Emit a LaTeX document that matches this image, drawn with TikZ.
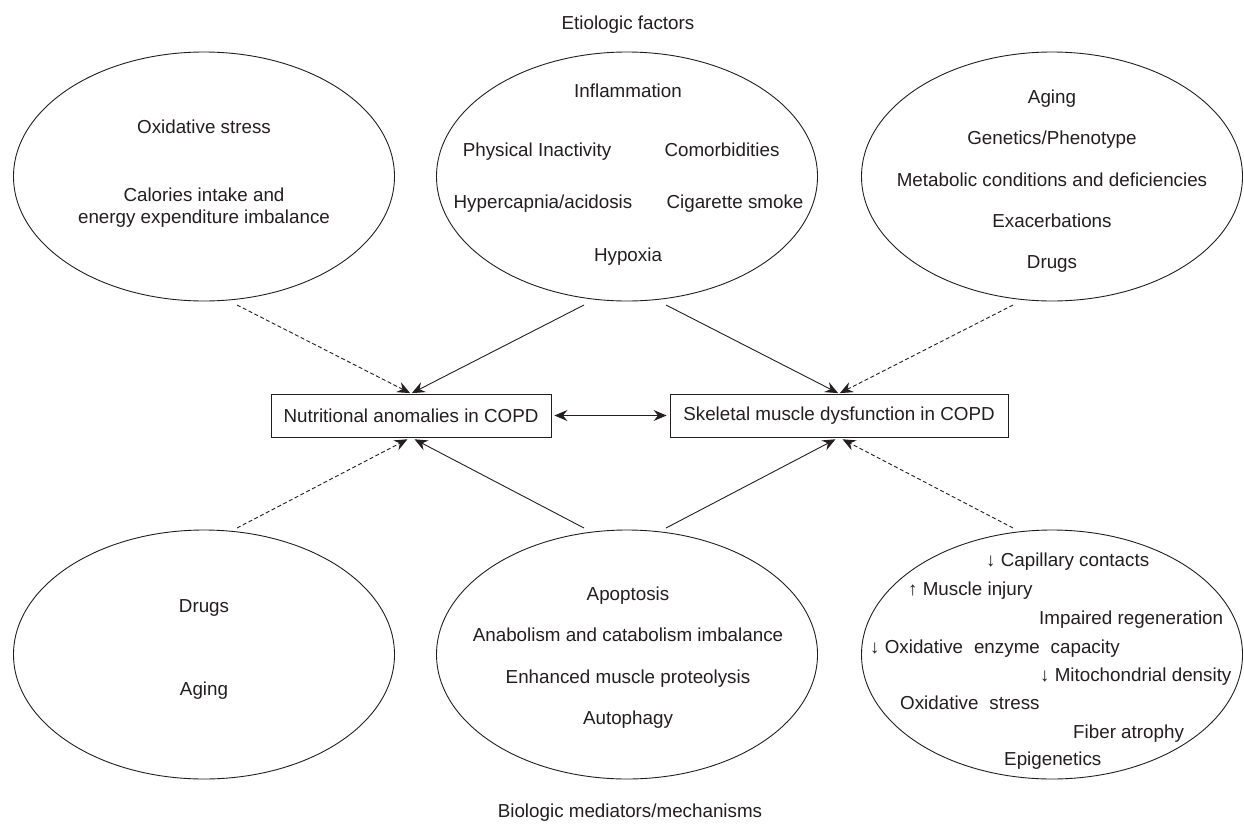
\documentclass[tikz,border=0pt]{standalone}
\usepackage{fontspec}
\setmainfont{Liberation Sans}
\usetikzlibrary{shapes.geometric,arrows.meta}
\definecolor{ink}{HTML}{231F20}
\newcommand{\fs}{\fontsize{18.8pt}{22pt}\selectfont}
\tikzset{
  lbl/.style={anchor=base, inner sep=0pt, text=ink, font=\fs},
  lblw/.style={anchor=base west, inner sep=0pt, text=ink, font=\fs},
  ell/.style={draw=ink, line width=0.9pt, ellipse, minimum width=381pt, minimum height=249pt, inner sep=0pt},
  box/.style={draw=ink, line width=0.9pt, minimum height=43pt, inner sep=0pt, text=ink, font=\fs},
  tip/.tip={Stealth[length=13pt,width=11pt,inset=4.5pt]},
  arr/.style={draw=ink, line width=0.9pt, -tip},
  darr/.style={arr, dash pattern=on 4pt off 2.5pt},
  biarr/.style={draw=ink, line width=0.9pt, tip-tip, shorten <=3pt, shorten >=3pt}
}
\begin{document}
\begin{tikzpicture}[x=1pt,y=-1pt]
\useasboundingbox (0,0) rectangle (1244,825);
\fill[white] (0,0) rectangle (1244,825);

% titles
\node[lbl] (etio) at (628,29) {Etiologic factors};
\node[lbl] (bio) at (630,817) {Biologic mediators/mechanisms};

% ellipses
\node[ell] (tl) at (204,176.5) {};
\node[ell] (tm) at (627,176.5) {};
\node[ell] (tr) at (1052,176.5) {};
\node[ell] (bl) at (204,654.5) {};
\node[ell] (bm) at (627,654.5) {};
\node[ell] (br) at (1052,654.5) {};

% boxes
\node[box, minimum width=280pt] (nut) at (411,415.5) {Nutritional anomalies in COPD};
\node[box, minimum width=338pt] (skel) at (839,415.5) {Skeletal muscle dysfunction in COPD};

% top-left text
\node[lbl] (tl1) at (204,133) {Oxidative stress};
\node[lbl] (tl2) at (204,201) {Calories intake and};
\node[lbl] (tl3) at (204,223) {energy expenditure imbalance};

% top-middle text
\node[lbl] (tm1) at (628,97) {Inflammation};
\node[lbl] (tm2) at (537,156) {Physical Inactivity};
\node[lbl] (tm3) at (722,156) {Comorbidities};
\node[lbl] (tm4) at (543,208) {Hypercapnia/acidosis};
\node[lbl] (tm5) at (735,208) {Cigarette smoke};
\node[lbl] (tm6) at (628,261) {Hypoxia};

% top-right text
\node[lbl] (tr1) at (1052,103) {Aging};
\node[lbl] (tr2) at (1052,144) {Genetics/Phenotype};
\node[lbl] (tr3) at (1052,186) {Metabolic conditions and deficiencies};
\node[lbl] (tr4) at (1052,227) {Exacerbations};
\node[lbl] (tr5) at (1052,268) {Drugs};

% bottom-left text
\node[lbl] (bl1) at (204,612) {Drugs};
\node[lbl] (bl2) at (204,695) {Aging};

% bottom-middle text
\node[lbl] (bm1) at (628,600) {Apoptosis};
\node[lbl] (bm2) at (628,641) {Anabolism and catabolism imbalance};
\node[lbl] (bm3) at (628,683) {Enhanced muscle proteolysis};
\node[lbl] (bm4) at (628,724) {Autophagy};

% bottom-right text
\node[lblw] (br1) at (986,566) {↓ Capillary contacts};
\node[lblw] (br2) at (908,595) {↑ Muscle injury};
\node[lblw] (br3) at (1039,624) {Impaired regeneration};
\node[lblw] (br4) at (870,653) {↓ Oxidative\hspace{0.3em} enzyme\hspace{0.3em} capacity};
\node[lblw] (br5) at (1040,681) {↓ Mitochondrial density};
\node[lblw] (br6) at (900,709) {Oxidative\hspace{0.3em} stress};
\node[lblw] (br7) at (1073,738) {Fiber atrophy};
\node[lblw] (br8) at (1004,765) {Epigenetics};

% connector start points
\coordinate (s1) at (237,305);
\coordinate (s2) at (584,305);
\coordinate (s3) at (666,305);
\coordinate (s4) at (1013,305);
\coordinate (b1) at (237,528);
\coordinate (b2) at (584,528);
\coordinate (b3) at (666,528);
\coordinate (b4) at (1013,528);

% connectors
\draw[darr, shorten >=1pt] (s1) -- (nut.north);
\draw[arr, shorten >=1pt] (s2) -- (nut.north);
\draw[arr, shorten >=1pt] (s3) -- (skel.north);
\draw[darr, shorten >=1pt] (s4) -- (skel.north);
\draw[darr, shorten >=4pt] (b1) -- (nut.south);
\draw[arr, shorten >=4pt] (b2) -- (nut.south);
\draw[arr, shorten >=4pt] (b3) -- (skel.south);
\draw[darr, shorten >=4pt] (b4) -- (skel.south);
\draw[biarr] (nut.east) -- (skel.west);
\end{tikzpicture}
\end{document}
